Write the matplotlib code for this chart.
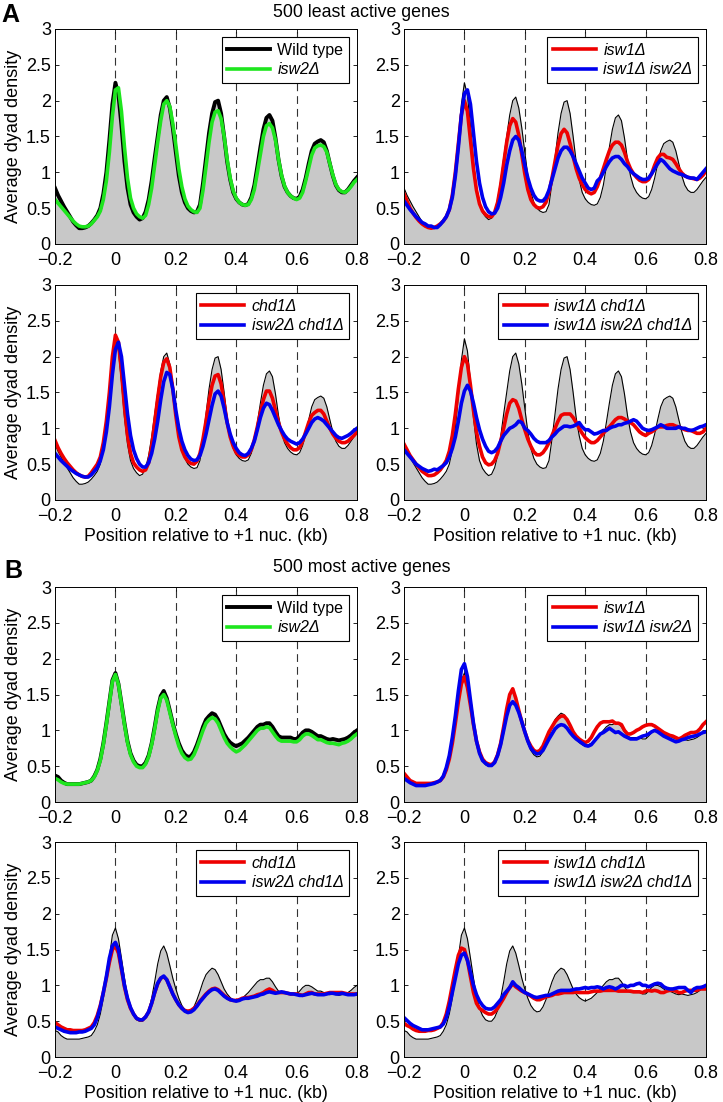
import numpy as np
import matplotlib
matplotlib.use('Agg')
import matplotlib.pyplot as plt

plt.rcParams['font.family'] = ['Liberation Sans', 'DejaVu Sans']
plt.rcParams['font.size'] = 12

# position relative to +1 nucleosome (kb), one value every 10 bp
position_kb = np.round(np.arange(-20, 81) / 100, 2)

# ---- 500 least active genes ----
wt_least = [
    0.78, 0.68, 0.60, 0.52, 0.45, 0.38, 0.31, 0.26, 0.22, 0.22,
    0.23, 0.25, 0.29, 0.34, 0.40, 0.50, 0.70, 1.00, 1.45, 1.95,
    2.25, 2.08, 1.65, 1.15, 0.78, 0.55, 0.44, 0.38, 0.34, 0.36,
    0.45, 0.62, 0.88, 1.20, 1.50, 1.80, 2.00, 2.05, 1.90, 1.62,
    1.28, 0.95, 0.72, 0.58, 0.50, 0.46, 0.44, 0.45, 0.55, 0.85,
    1.20, 1.55, 1.82, 1.98, 2.00, 1.82, 1.50, 1.15, 0.90, 0.72,
    0.63, 0.58, 0.55, 0.54, 0.56, 0.65, 0.82, 1.08, 1.35, 1.60,
    1.76, 1.80, 1.72, 1.48, 1.18, 0.95, 0.80, 0.72, 0.67, 0.64,
    0.63, 0.66, 0.76, 0.92, 1.12, 1.30, 1.40, 1.43, 1.45, 1.42,
    1.30, 1.12, 0.95, 0.82, 0.75, 0.72, 0.72, 0.76, 0.82, 0.88,
    0.93]
isw2_least = [
    0.62, 0.57, 0.52, 0.47, 0.42, 0.37, 0.32, 0.28, 0.25, 0.24,
    0.24, 0.25, 0.28, 0.33, 0.38, 0.46, 0.62, 0.88, 1.28, 1.78,
    2.15, 2.18, 1.85, 1.35, 0.92, 0.64, 0.50, 0.42, 0.38, 0.36,
    0.40, 0.55, 0.78, 1.10, 1.42, 1.72, 1.95, 2.00, 1.92, 1.68,
    1.38, 1.05, 0.80, 0.63, 0.53, 0.48, 0.45, 0.44, 0.50, 0.75,
    1.08, 1.42, 1.70, 1.84, 1.86, 1.75, 1.50, 1.18, 0.92, 0.74,
    0.64, 0.58, 0.55, 0.54, 0.55, 0.62, 0.76, 1.00, 1.25, 1.50,
    1.65, 1.68, 1.62, 1.45, 1.18, 0.96, 0.81, 0.72, 0.67, 0.64,
    0.62, 0.64, 0.72, 0.88, 1.06, 1.24, 1.34, 1.37, 1.38, 1.36,
    1.28, 1.12, 0.96, 0.83, 0.76, 0.73, 0.72, 0.75, 0.80, 0.86,
    0.90]
isw1_least = [
    0.70, 0.60, 0.50, 0.43, 0.37, 0.32, 0.28, 0.25, 0.23, 0.22,
    0.23, 0.25, 0.28, 0.32, 0.38, 0.48, 0.68, 1.00, 1.40, 1.80,
    2.00, 1.85, 1.45, 1.05, 0.75, 0.56, 0.46, 0.41, 0.38, 0.38,
    0.44, 0.58, 0.82, 1.12, 1.42, 1.65, 1.75, 1.70, 1.52, 1.25,
    0.98, 0.76, 0.62, 0.55, 0.51, 0.50, 0.52, 0.58, 0.72, 0.92,
    1.15, 1.38, 1.54, 1.60, 1.55, 1.40, 1.22, 1.05, 0.92, 0.83,
    0.76, 0.72, 0.70, 0.72, 0.80, 0.92, 1.05, 1.18, 1.30, 1.38,
    1.42, 1.42, 1.38, 1.28, 1.15, 1.05, 0.98, 0.93, 0.89, 0.87,
    0.87, 0.90, 0.98, 1.10, 1.20, 1.25, 1.25, 1.21, 1.20, 1.18,
    1.12, 1.05, 0.99, 0.95, 0.93, 0.92, 0.91, 0.90, 0.92, 0.96,
    1.02]
isw1_isw2_least = [
    0.60, 0.54, 0.48, 0.43, 0.38, 0.34, 0.30, 0.28, 0.25, 0.25,
    0.23, 0.23, 0.27, 0.32, 0.38, 0.48, 0.65, 0.95, 1.35, 1.80,
    2.10, 2.15, 1.95, 1.55, 1.15, 0.85, 0.65, 0.52, 0.45, 0.42,
    0.43, 0.50, 0.65, 0.85, 1.10, 1.30, 1.45, 1.50, 1.45, 1.30,
    1.10, 0.92, 0.78, 0.68, 0.62, 0.60, 0.60, 0.65, 0.75, 0.90,
    1.05, 1.20, 1.30, 1.35, 1.35, 1.30, 1.22, 1.12, 1.02, 0.92,
    0.85, 0.78, 0.76, 0.78, 0.88, 0.92, 1.00, 1.08, 1.15, 1.20,
    1.22, 1.22, 1.18, 1.12, 1.08, 1.02, 0.98, 0.95, 0.92, 0.90,
    0.90, 0.92, 0.98, 1.05, 1.12, 1.18, 1.15, 1.10, 1.05, 1.02,
    1.00, 0.98, 0.97, 0.95, 0.93, 0.92, 0.92, 0.90, 0.95, 1.00,
    1.05]
chd1_least = [
    0.83, 0.73, 0.65, 0.58, 0.52, 0.47, 0.42, 0.38, 0.35, 0.33,
    0.32, 0.33, 0.38, 0.44, 0.50, 0.60, 0.80, 1.10, 1.50, 2.00,
    2.30, 2.20, 1.80, 1.30, 0.90, 0.65, 0.52, 0.46, 0.42, 0.40,
    0.42, 0.52, 0.75, 1.08, 1.42, 1.72, 1.92, 1.97, 1.85, 1.55,
    1.18, 0.88, 0.70, 0.60, 0.54, 0.51, 0.50, 0.54, 0.65, 0.85,
    1.10, 1.38, 1.60, 1.73, 1.75, 1.62, 1.35, 1.08, 0.88, 0.75,
    0.66, 0.62, 0.60, 0.60, 0.63, 0.70, 0.84, 1.02, 1.22, 1.40,
    1.52, 1.52, 1.42, 1.25, 1.08, 0.95, 0.85, 0.78, 0.73, 0.70,
    0.70, 0.73, 0.82, 0.95, 1.08, 1.18, 1.22, 1.25, 1.25, 1.20,
    1.10, 1.00, 0.92, 0.86, 0.82, 0.80, 0.80, 0.82, 0.86, 0.90,
    0.95]
isw2_chd1_least = [
    0.65, 0.60, 0.55, 0.51, 0.47, 0.43, 0.40, 0.37, 0.35, 0.33,
    0.32, 0.32, 0.35, 0.40, 0.45, 0.55, 0.70, 0.95, 1.30, 1.75,
    2.10, 2.20, 2.00, 1.60, 1.20, 0.90, 0.70, 0.58, 0.50, 0.46,
    0.46, 0.52, 0.65, 0.85, 1.10, 1.40, 1.65, 1.78, 1.75, 1.55,
    1.25, 1.00, 0.82, 0.70, 0.62, 0.57, 0.55, 0.56, 0.62, 0.75,
    0.92, 1.12, 1.32, 1.48, 1.52, 1.45, 1.28, 1.08, 0.92, 0.80,
    0.72, 0.66, 0.63, 0.62, 0.65, 0.72, 0.82, 0.98, 1.15, 1.28,
    1.35, 1.33, 1.25, 1.15, 1.05, 0.97, 0.90, 0.85, 0.82, 0.80,
    0.78, 0.80, 0.85, 0.92, 1.00, 1.08, 1.13, 1.15, 1.13, 1.10,
    1.05, 1.00, 0.95, 0.90, 0.87, 0.86, 0.88, 0.90, 0.93, 0.97,
    1.00]
isw1_chd1_least = [
    0.78, 0.70, 0.62, 0.56, 0.50, 0.45, 0.40, 0.37, 0.34, 0.34,
    0.35, 0.38, 0.42, 0.48, 0.55, 0.68, 0.90, 1.20, 1.55, 1.85,
    2.00, 1.90, 1.60, 1.25, 0.95, 0.75, 0.60, 0.52, 0.49, 0.50,
    0.55, 0.65, 0.82, 1.00, 1.20, 1.35, 1.40, 1.38, 1.28, 1.12,
    0.98, 0.85, 0.75, 0.67, 0.63, 0.63, 0.66, 0.72, 0.80, 0.90,
    1.00, 1.10, 1.18, 1.20, 1.20, 1.20, 1.15, 1.08, 1.00, 0.93,
    0.87, 0.83, 0.80, 0.80, 0.83, 0.88, 0.93, 0.98, 1.02, 1.07,
    1.12, 1.15, 1.15, 1.13, 1.10, 1.08, 1.05, 1.00, 0.95, 0.92,
    0.90, 0.93, 0.95, 0.98, 1.02, 1.02, 1.02, 1.04, 1.05, 1.05,
    1.03, 1.02, 1.00, 0.98, 0.97, 0.97, 0.95, 0.93, 0.93, 0.95,
    1.00]
isw1_isw2_chd1_least = [
    0.70, 0.65, 0.60, 0.55, 0.50, 0.47, 0.44, 0.42, 0.40, 0.41,
    0.43, 0.42, 0.45, 0.48, 0.52, 0.60, 0.72, 0.88, 1.10, 1.35,
    1.52, 1.60, 1.52, 1.35, 1.15, 0.98, 0.85, 0.75, 0.68, 0.66,
    0.68, 0.73, 0.82, 0.90, 0.95, 1.00, 1.02, 1.05, 1.10, 1.08,
    1.00, 0.97, 0.92, 0.86, 0.82, 0.80, 0.80, 0.80, 0.83, 0.88,
    0.92, 0.97, 1.00, 1.03, 1.03, 1.02, 1.03, 1.05, 1.08, 1.02,
    0.98, 0.98, 0.95, 0.92, 0.93, 0.95, 0.97, 0.97, 1.00, 1.02,
    1.03, 1.05, 1.05, 1.07, 1.08, 1.10, 1.12, 1.10, 1.05, 1.00,
    0.98, 0.97, 0.98, 1.00, 1.02, 1.05, 1.03, 1.00, 1.00, 1.00,
    1.00, 1.02, 1.00, 1.00, 0.98, 0.97, 0.98, 1.00, 1.02, 1.03,
    1.05]

# ---- 500 most active genes ----
wt_most = [
    0.37, 0.35, 0.30, 0.27, 0.25, 0.25, 0.25, 0.25, 0.25, 0.26,
    0.27, 0.28, 0.30, 0.36, 0.45, 0.60, 0.82, 1.10, 1.40, 1.70,
    1.80, 1.65, 1.38, 1.10, 0.85, 0.68, 0.58, 0.52, 0.50, 0.50,
    0.55, 0.65, 0.82, 1.05, 1.30, 1.48, 1.55, 1.45, 1.28, 1.10,
    0.95, 0.82, 0.72, 0.66, 0.63, 0.64, 0.70, 0.80, 0.92, 1.05,
    1.15, 1.20, 1.24, 1.22, 1.15, 1.05, 0.95, 0.88, 0.83, 0.80,
    0.78, 0.80, 0.82, 0.86, 0.90, 0.95, 1.00, 1.05, 1.08, 1.08,
    1.10, 1.10, 1.05, 0.98, 0.92, 0.90, 0.90, 0.90, 0.90, 0.88,
    0.88, 0.92, 0.97, 1.00, 1.00, 0.98, 0.95, 0.92, 0.92, 0.90,
    0.88, 0.87, 0.88, 0.87, 0.86, 0.87, 0.88, 0.90, 0.93, 0.97,
    1.00]
isw2_most = [
    0.33, 0.31, 0.28, 0.26, 0.25, 0.25, 0.25, 0.25, 0.25, 0.26,
    0.27, 0.28, 0.30, 0.35, 0.44, 0.58, 0.80, 1.08, 1.38, 1.68,
    1.78, 1.64, 1.36, 1.08, 0.83, 0.66, 0.56, 0.50, 0.48, 0.48,
    0.53, 0.63, 0.80, 1.02, 1.27, 1.45, 1.50, 1.42, 1.25, 1.08,
    0.92, 0.78, 0.68, 0.62, 0.59, 0.60, 0.66, 0.76, 0.88, 1.00,
    1.10, 1.15, 1.18, 1.16, 1.10, 1.00, 0.90, 0.82, 0.77, 0.73,
    0.70, 0.72, 0.76, 0.80, 0.85, 0.90, 0.95, 1.00, 1.03, 1.03,
    1.05, 1.04, 0.98, 0.92, 0.87, 0.85, 0.85, 0.85, 0.85, 0.84,
    0.84, 0.87, 0.92, 0.95, 0.95, 0.93, 0.90, 0.87, 0.87, 0.85,
    0.83, 0.82, 0.82, 0.81, 0.80, 0.82, 0.83, 0.85, 0.88, 0.92,
    0.95]
isw1_most = [
    0.40, 0.35, 0.30, 0.28, 0.26, 0.26, 0.26, 0.26, 0.26, 0.26,
    0.27, 0.28, 0.30, 0.35, 0.45, 0.60, 0.82, 1.10, 1.40, 1.65,
    1.75, 1.60, 1.35, 1.08, 0.85, 0.70, 0.60, 0.55, 0.53, 0.52,
    0.56, 0.66, 0.82, 1.05, 1.30, 1.50, 1.58, 1.45, 1.28, 1.12,
    0.98, 0.86, 0.78, 0.72, 0.70, 0.72, 0.78, 0.88, 0.98, 1.05,
    1.12, 1.17, 1.20, 1.20, 1.15, 1.07, 0.98, 0.92, 0.88, 0.85,
    0.83, 0.85, 0.90, 0.98, 1.05, 1.10, 1.12, 1.12, 1.12, 1.13,
    1.10, 1.10, 1.08, 1.00, 0.95, 0.95, 0.97, 1.00, 1.02, 1.05,
    1.07, 1.08, 1.08, 1.06, 1.03, 1.00, 0.97, 0.95, 0.93, 0.92,
    0.90, 0.88, 0.90, 0.93, 0.95, 0.97, 0.97, 0.98, 1.02, 1.08,
    1.12]
isw1_isw2_most = [
    0.33, 0.30, 0.27, 0.25, 0.23, 0.23, 0.23, 0.23, 0.24, 0.25,
    0.26, 0.28, 0.30, 0.36, 0.48, 0.65, 0.90, 1.20, 1.55, 1.85,
    1.93, 1.75, 1.42, 1.10, 0.85, 0.68, 0.58, 0.54, 0.51, 0.51,
    0.55, 0.65, 0.80, 1.00, 1.20, 1.35, 1.40, 1.35, 1.25, 1.12,
    0.98, 0.85, 0.75, 0.70, 0.67, 0.68, 0.72, 0.80, 0.88, 0.95,
    1.02, 1.06, 1.08, 1.07, 1.03, 0.97, 0.92, 0.88, 0.85, 0.82,
    0.79, 0.78, 0.80, 0.85, 0.90, 0.95, 0.97, 1.00, 1.03, 1.00,
    0.97, 0.98, 0.95, 0.92, 0.90, 0.88, 0.88, 0.88, 0.90, 0.92,
    0.93, 0.95, 0.98, 1.00, 0.98, 0.95, 0.92, 0.90, 0.88, 0.86,
    0.84, 0.85, 0.87, 0.88, 0.90, 0.91, 0.92, 0.93, 0.95, 0.97,
    0.98]
chd1_most = [
    0.48, 0.45, 0.42, 0.40, 0.38, 0.38, 0.37, 0.37, 0.37, 0.37,
    0.38, 0.40, 0.42, 0.48, 0.58, 0.72, 0.90, 1.10, 1.32, 1.50,
    1.55, 1.45, 1.22, 0.98, 0.80, 0.68, 0.60, 0.54, 0.52, 0.52,
    0.56, 0.63, 0.75, 0.90, 1.02, 1.10, 1.12, 1.08, 0.98, 0.88,
    0.80, 0.73, 0.68, 0.65, 0.64, 0.65, 0.68, 0.72, 0.78, 0.83,
    0.88, 0.92, 0.95, 0.96, 0.94, 0.90, 0.86, 0.83, 0.80, 0.79,
    0.79, 0.80, 0.82, 0.83, 0.83, 0.84, 0.85, 0.87, 0.88, 0.90,
    0.93, 0.95, 0.93, 0.90, 0.90, 0.90, 0.90, 0.89, 0.88, 0.88,
    0.88, 0.87, 0.86, 0.88, 0.90, 0.90, 0.88, 0.88, 0.88, 0.88,
    0.89, 0.90, 0.90, 0.90, 0.90, 0.90, 0.89, 0.88, 0.88, 0.88,
    0.88]
isw2_chd1_most = [
    0.42, 0.40, 0.38, 0.36, 0.35, 0.34, 0.34, 0.34, 0.35, 0.35,
    0.36, 0.38, 0.40, 0.45, 0.55, 0.70, 0.90, 1.12, 1.38, 1.55,
    1.60, 1.50, 1.25, 1.00, 0.82, 0.69, 0.60, 0.54, 0.52, 0.52,
    0.56, 0.63, 0.75, 0.90, 1.03, 1.10, 1.13, 1.08, 0.98, 0.88,
    0.80, 0.73, 0.68, 0.64, 0.62, 0.63, 0.66, 0.71, 0.77, 0.82,
    0.87, 0.91, 0.94, 0.95, 0.93, 0.89, 0.85, 0.82, 0.80, 0.79,
    0.78, 0.79, 0.81, 0.82, 0.82, 0.83, 0.84, 0.85, 0.87, 0.88,
    0.90, 0.91, 0.90, 0.89, 0.90, 0.91, 0.90, 0.89, 0.88, 0.88,
    0.87, 0.86, 0.86, 0.87, 0.88, 0.89, 0.88, 0.87, 0.87, 0.87,
    0.88, 0.89, 0.89, 0.88, 0.88, 0.89, 0.88, 0.87, 0.87, 0.87,
    0.88]
isw1_chd1_most = [
    0.47, 0.44, 0.42, 0.39, 0.37, 0.36, 0.36, 0.36, 0.37, 0.37,
    0.38, 0.40, 0.42, 0.48, 0.60, 0.78, 1.00, 1.22, 1.42, 1.52,
    1.50, 1.35, 1.12, 0.90, 0.75, 0.68, 0.65, 0.62, 0.60, 0.60,
    0.63, 0.68, 0.75, 0.82, 0.90, 0.97, 1.02, 0.98, 0.95, 0.92,
    0.90, 0.88, 0.85, 0.82, 0.80, 0.80, 0.82, 0.84, 0.85, 0.86,
    0.88, 0.88, 0.89, 0.90, 0.90, 0.90, 0.90, 0.91, 0.90, 0.90,
    0.90, 0.90, 0.91, 0.92, 0.92, 0.92, 0.93, 0.93, 0.93, 0.93,
    0.93, 0.92, 0.92, 0.92, 0.92, 0.92, 0.91, 0.91, 0.91, 0.90,
    0.92, 0.93, 0.92, 0.93, 0.92, 0.90, 0.90, 0.92, 0.93, 0.93,
    0.92, 0.90, 0.90, 0.92, 0.93, 0.93, 0.93, 0.93, 0.95, 0.95,
    0.95]
isw1_isw2_chd1_most = [
    0.55, 0.51, 0.47, 0.44, 0.42, 0.40, 0.38, 0.38, 0.38, 0.39,
    0.40, 0.41, 0.42, 0.46, 0.55, 0.70, 0.90, 1.10, 1.30, 1.42,
    1.45, 1.35, 1.18, 1.00, 0.87, 0.78, 0.72, 0.68, 0.67, 0.67,
    0.70, 0.75, 0.80, 0.87, 0.92, 0.97, 1.05, 1.00, 0.97, 0.93,
    0.90, 0.88, 0.86, 0.84, 0.83, 0.84, 0.85, 0.86, 0.86, 0.88,
    0.90, 0.92, 0.93, 0.93, 0.93, 0.93, 0.94, 0.95, 0.95, 0.96,
    0.97, 0.96, 0.97, 0.97, 0.98, 0.97, 0.95, 0.97, 0.98, 0.97,
    0.95, 0.97, 1.00, 1.00, 0.98, 1.00, 1.00, 1.02, 1.03, 1.00,
    1.00, 0.98, 1.00, 1.02, 1.03, 1.02, 0.98, 0.96, 0.95, 0.95,
    0.96, 0.97, 0.97, 0.97, 0.93, 0.90, 0.95, 0.97, 0.97, 0.98,
    1.00]

label_wt = 'Wild type'
label_isw2 = 'isw2\u0394'
label_isw1 = 'isw1\u0394'
label_isw1_isw2 = 'isw1\u0394 isw2\u0394'
label_chd1 = 'chd1\u0394'
label_isw2_chd1 = 'isw2\u0394 chd1\u0394'
label_isw1_chd1 = 'isw1\u0394 chd1\u0394'
label_isw1_isw2_chd1 = 'isw1\u0394 isw2\u0394 chd1\u0394'

x_ticks = [-0.2, 0, 0.2, 0.4, 0.6, 0.8]
x_tick_labels = ['\u22120.2', '0', '0.2', '0.4', '0.6', '0.8']
y_ticks = [0, 0.5, 1, 1.5, 2, 2.5, 3]
y_tick_labels = ['0', '0.5', '1', '1.5', '2', '2.5', '3']
marker_lines = [0, 0.2, 0.4, 0.6]

RED = '#ee0000'
BLUE = '#0000ee'
GREEN = '#1ee61e'
GRAY = '#c8c8c8'


def draw_panel(ax, wt, series, labels, colors, wt_in_legend):
    # dashed nucleosome markers sit behind the wild type area
    for xm in marker_lines:
        ax.plot([xm, xm], [0, 3], color='#333333', lw=0.8, dashes=(7, 4.5), zorder=1)
    ax.fill_between(position_kb, 0, wt, color=GRAY, lw=0, zorder=2)
    handles = []
    if wt_in_legend:
        h, = ax.plot(position_kb, wt, color='black', lw=2.8, zorder=3, label=label_wt)
        handles.append(h)
    else:
        ax.plot(position_kb, wt, color='black', lw=0.8, zorder=3)
    for vals, lab, col in zip(series, labels, colors):
        h, = ax.plot(position_kb, vals, color=col, lw=2.6, zorder=4, label=lab)
        handles.append(h)
    ax.set_xlim(-0.2, 0.8)
    ax.set_ylim(0, 3)
    ax.set_xticks(x_ticks)
    ax.set_xticklabels(x_tick_labels)
    ax.set_yticks(y_ticks)
    ax.set_yticklabels(y_tick_labels)
    ax.tick_params(direction='in', length=3, width=0.6, top=True, right=True,
                   labelsize=13)
    ax.tick_params(axis='x', pad=6)
    ax.tick_params(axis='y', pad=3)
    for sp in ax.spines.values():
        sp.set_linewidth(0.7)
        sp.set_zorder(6)
    leg = ax.legend(handles=handles, loc='upper right', fontsize=11.5, fancybox=False,
                    edgecolor='black', framealpha=1, borderpad=0.35, handlelength=2.7,
                    handletextpad=0.45, labelspacing=0.3, borderaxespad=0.5)
    leg.get_frame().set_linewidth(0.8)
    leg.set_zorder(7)
    for t in leg.get_texts():
        if t.get_text() != label_wt:
            t.set_style('italic')


fig = plt.figure(figsize=(7.23, 11.02), dpi=100)

lefts = [0.0761, 0.5588]
bottoms = [0.7786, 0.5463, 0.2722, 0.0408]
w = 0.4177
h = 0.1951

axes = []
for b in bottoms:
    row = []
    for l in lefts:
        row.append(fig.add_axes([l, b, w, h]))
    axes.append(row)

# A - least active
draw_panel(axes[0][0], wt_least, [isw2_least], [label_isw2], [GREEN], True)
draw_panel(axes[0][1], wt_least, [isw1_least, isw1_isw2_least],
           [label_isw1, label_isw1_isw2], [RED, BLUE], False)
draw_panel(axes[1][0], wt_least, [chd1_least, isw2_chd1_least],
           [label_chd1, label_isw2_chd1], [RED, BLUE], False)
draw_panel(axes[1][1], wt_least, [isw1_chd1_least, isw1_isw2_chd1_least],
           [label_isw1_chd1, label_isw1_isw2_chd1], [RED, BLUE], False)

# B - most active
draw_panel(axes[2][0], wt_most, [isw2_most], [label_isw2], [GREEN], True)
draw_panel(axes[2][1], wt_most, [isw1_most, isw1_isw2_most],
           [label_isw1, label_isw1_isw2], [RED, BLUE], False)
draw_panel(axes[3][0], wt_most, [chd1_most, isw2_chd1_most],
           [label_chd1, label_isw2_chd1], [RED, BLUE], False)
draw_panel(axes[3][1], wt_most, [isw1_chd1_most, isw1_isw2_chd1_most],
           [label_isw1_chd1, label_isw1_isw2_chd1], [RED, BLUE], False)

for row in axes:
    row[0].set_ylabel('Average dyad density', fontsize=13, labelpad=3)
for r in (1, 3):
    for ax in axes[r]:
        ax.set_xlabel('Position relative to +1 nuc. (kb)', fontsize=12.8, labelpad=2)

fig.text(0.5, 0.989, '500 least active genes', ha='center', va='center', fontsize=12.8)
fig.text(0.5, 0.4846, '500 most active genes', ha='center', va='center', fontsize=12.8)
fig.text(0.002, 0.986, 'A', ha='left', va='center', fontsize=18, fontweight='bold')
fig.text(0.006, 0.482, 'B', ha='left', va='center', fontsize=18, fontweight='bold')

fig.savefig('out.png', dpi=100)
